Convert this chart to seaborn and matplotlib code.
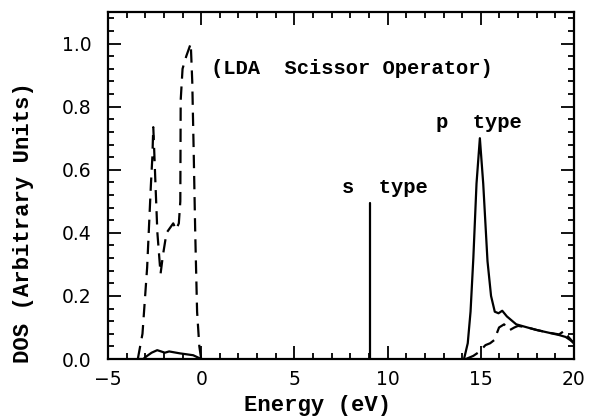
import pandas as pd
import matplotlib
matplotlib.use("Agg")
import matplotlib.pyplot as plt
from matplotlib.ticker import MultipleLocator
import seaborn as sns

# valence band region (dashed = total, solid = small contribution)
val_dash_e = [-3.40, -3.15, -2.90, -2.70, -2.62, -2.57, -2.52, -2.45, -2.35, -2.18, -2.05,
              -1.86, -1.62, -1.50, -1.35, -1.20, -1.12, -1.10, -1.00, -0.80, -0.56, -0.48,
              -0.40, -0.32, -0.22, -0.10, 0.00]
val_dash_dos = [0.00, 0.08, 0.29, 0.55, 0.64, 0.735, 0.66, 0.55, 0.40, 0.27, 0.33,
                0.40, 0.42, 0.43, 0.41, 0.43, 0.50, 0.82, 0.92, 0.96, 1.00, 0.88,
                0.65, 0.40, 0.15, 0.04, 0.00]
val_solid_e = [-3.40, -3.11, -2.90, -2.66, -2.36, -2.15, -1.95, -1.72, -1.15, -0.43, -0.07, 0.00]
val_solid_dos = [0.00, 0.00, 0.010, 0.020, 0.028, 0.024, 0.020, 0.024, 0.018, 0.012, 0.002, 0.00]

# s type state
s_energy = [9.03, 9.03]
s_dos = [0.0, 0.495]

# conduction band region
cond_solid_e = [14.10, 14.30, 14.45, 14.60, 14.77, 14.95, 15.13, 15.36, 15.55, 15.75, 15.95,
                16.15, 16.40, 16.90, 17.50, 18.00, 18.60, 19.20, 19.55, 19.80, 20.00]
cond_solid_dos = [0.00, 0.05, 0.15, 0.32, 0.556, 0.70, 0.556, 0.31, 0.20, 0.15, 0.145,
                  0.153, 0.135, 0.11, 0.10, 0.092, 0.084, 0.076, 0.07, 0.06, 0.05]
cond_dash_e = [14.20, 14.60, 14.90, 15.25, 15.50, 15.72, 15.98, 16.25, 16.50, 16.80, 17.00,
               17.50, 18.00, 18.60, 19.20, 19.50, 19.70, 20.00]
cond_dash_dos = [0.00, 0.01, 0.022, 0.044, 0.05, 0.06, 0.10, 0.11, 0.09, 0.10, 0.105,
                 0.10, 0.092, 0.084, 0.078, 0.09, 0.07, 0.05]

x_ticks = [-5, 0, 5, 10, 15, 20]
x_tick_labels = ['\u22125', '0', '5', '10', '15', '20']
y_ticks = [0.0, 0.2, 0.4, 0.6, 0.8, 1.0]
y_tick_labels = ['0.0', '0.2', '0.4', '0.6', '0.8', '1.0']

sns.set_style("ticks")
plt.rcParams['lines.dashed_pattern'] = [6, 3.5]

fig = plt.figure(figsize=(5.95, 4.2), dpi=100)
ax = fig.add_axes([0.1815, 0.1452, 0.7832, 0.8262])

def draw(e, d, ls):
    df = pd.DataFrame({'Energy': e, 'DOS': d})
    sns.lineplot(data=df, x='Energy', y='DOS', estimator=None, sort=False,
                 color='black', lw=1.6, ls=ls, ax=ax)

draw(val_dash_e, val_dash_dos, '--')
draw(val_solid_e, val_solid_dos, '-')
draw(s_energy, s_dos, '-')
draw(cond_dash_e, cond_dash_dos, '--')
draw(cond_solid_e, cond_solid_dos, '-')

ax.set_xlim(-5, 20)
ax.set_ylim(0, 1.1)
ax.xaxis.set_minor_locator(MultipleLocator(1))
ax.yaxis.set_minor_locator(MultipleLocator(0.04))
ax.tick_params(which='both', direction='in', top=True, right=True, width=1.3, colors='black')
ax.tick_params(which='major', length=9.5)
ax.tick_params(which='minor', length=4)
ax.tick_params(axis='x', pad=8)
ax.tick_params(axis='y', pad=12)
ax.set_yticks(y_ticks)
ax.set_yticklabels(y_tick_labels, family='DejaVu Sans', fontsize=13.5)
ax.set_xticks(x_ticks)
ax.set_xticklabels(x_tick_labels, family='DejaVu Sans', fontsize=13.5)
for sp in ax.spines.values():
    sp.set_linewidth(1.6)
    sp.set_color('black')

mono = dict(family='Liberation Mono', weight='bold', color='black')
ax.set_xlabel('Energy (eV)', fontsize=16, **mono)
ax.set_ylabel('DOS (Arbitrary Units)', fontsize=16, **mono)
ax.xaxis.set_label_coords(0.45, -0.105)
ax.yaxis.set_label_coords(-0.158, 0.393)

ax.text(0.55, 0.905, '(LDA  Scissor Operator)', fontsize=14.8, ha='left', va='baseline', **mono)
ax.text(12.6, 0.731, 'p  type', fontsize=14.8, ha='left', va='baseline', **mono)
ax.text(7.58, 0.525, 's  type', fontsize=14.8, ha='left', va='baseline', **mono)

fig.savefig('out.png', dpi=100)
